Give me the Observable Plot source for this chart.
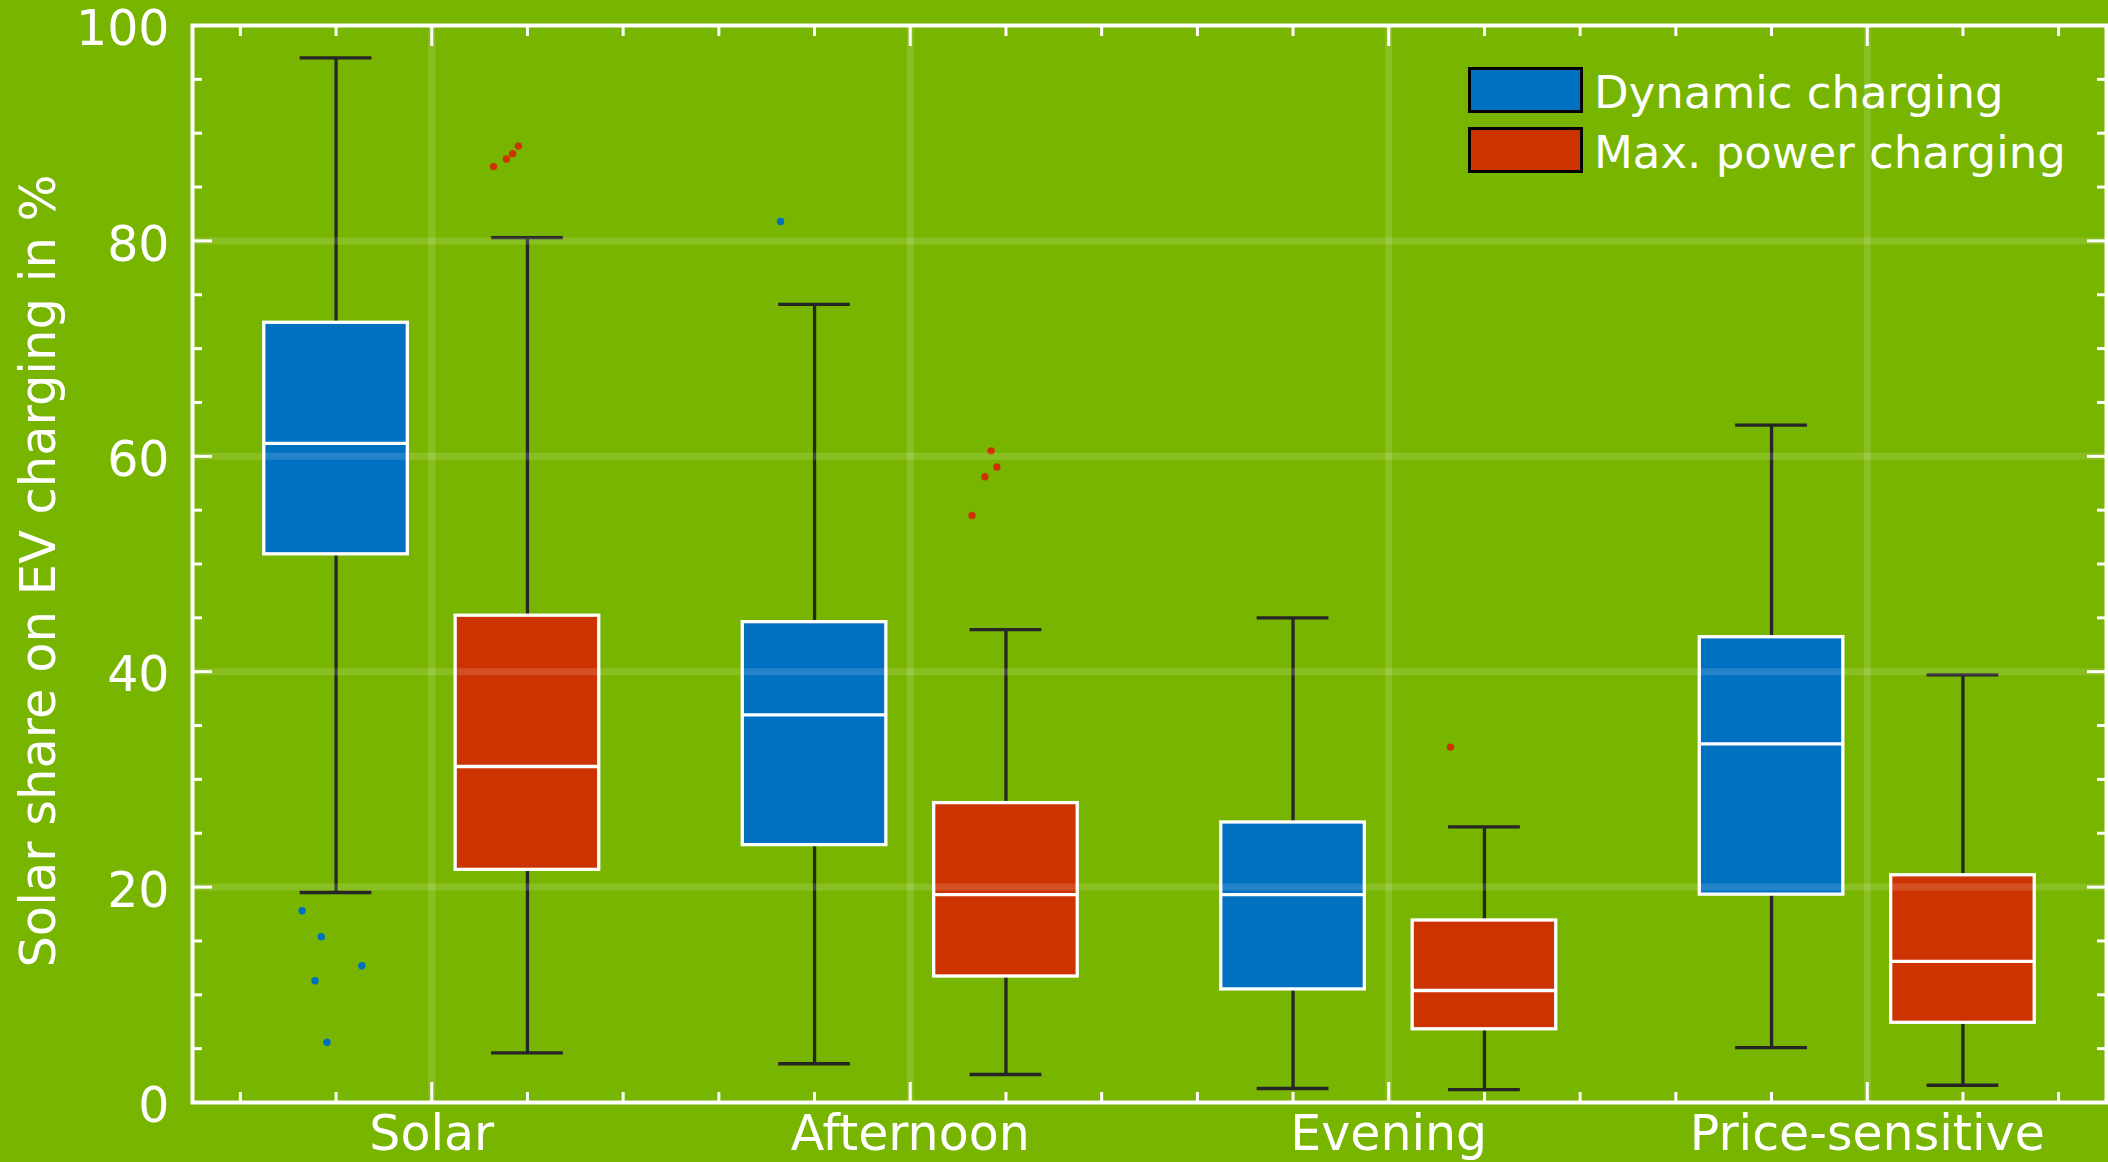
<!DOCTYPE html>
<html>
<head>
<meta charset="utf-8">
<script src="https://cdn.jsdelivr.net/npm/d3@7"></script>
<script src="https://cdn.jsdelivr.net/npm/@observablehq/plot@0.6"></script>
<style>
  html, body { margin: 0; padding: 0; background: #77b500; }
  #chart { position: relative; width: 2108px; height: 1162px; font-family: "DejaVu Sans", Verdana, sans-serif; }
  #chart svg { display: block; }
  .legend { position: absolute; left: 1468px; top: 67px; color: white; font-size: 45px; }
  .legend .row { position: relative; height: 60px; }
  .legend .swatch { position: absolute; left: 0; top: 0; width: 115px; height: 46px; box-sizing: border-box; border: 3px solid #000; }
  .legend .label { position: absolute; left: 126px; top: 2.5px; line-height: 46px; white-space: nowrap; }
</style>
</head>
<body>
<div id="chart"></div>
<script>
// Charging scenarios on the x axis
const categories = ["Solar", "Afternoon", "Evening", "Price-sensitive"];
const seriesNames = ["Dynamic charging", "Max. power charging"];
const seriesColors = ["#0070c0", "#cc3300"];

// Box statistics (solar share in %), one entry per scenario
const dynamicLow    = [19.5, 3.6, 1.3, 5.1];
const dynamicQ1     = [50.9, 23.9, 10.5, 19.3];
const dynamicMedian = [61.2, 36.0, 19.3, 33.3];
const dynamicQ3     = [72.4, 44.6, 26.0, 43.2];
const dynamicHigh   = [97.0, 74.1, 45.0, 62.9];

const maxLow    = [4.6, 2.6, 1.2, 1.6];
const maxQ1     = [21.6, 11.7, 6.8, 7.4];
const maxMedian = [31.2, 19.3, 10.4, 13.1];
const maxQ3     = [45.2, 27.8, 16.9, 21.1];
const maxHigh   = [80.3, 43.9, 25.6, 39.7];

// Outliers: scenario index, series index, value, horizontal jitter
const outlierCategory = [0, 0, 0, 0, 0, 0, 0, 0, 0, 1, 1, 1, 1, 1, 2];
const outlierSeries   = [0, 0, 0, 0, 0, 1, 1, 1, 1, 0, 1, 1, 1, 1, 1];
const outlierValue    = [17.8, 15.4, 12.7, 11.3, 5.6, 86.9, 87.6, 88.1, 88.8, 81.8, 60.5, 59.0, 58.1, 54.5, 33.0];
const outlierJitter   = [-0.071, -0.031, 0.054, -0.044, -0.019, -0.071, -0.044, -0.031, -0.019, -0.071, -0.031, -0.019, -0.044, -0.071, -0.071];

const yLabels = [0, 20, 40, 60, 80, 100];

const seriesStats = [
  [dynamicLow, dynamicQ1, dynamicMedian, dynamicQ3, dynamicHigh],
  [maxLow, maxQ1, maxMedian, maxQ3, maxHigh]
];
const groupOffset = [-0.2, 0.2];
const boxHalf = 0.15;
const capHalf = 0.075;

const boxes = [];
seriesStats.forEach(([lo, q1, med, q3, hi], s) => {
  categories.forEach((c, i) => {
    boxes.push({
      series: seriesNames[s],
      x: i + 1 + groupOffset[s],
      low: lo[i], q1: q1[i], median: med[i], q3: q3[i], high: hi[i]
    });
  });
});

const outliers = outlierValue.map((v, k) => ({
  series: seriesNames[outlierSeries[k]],
  x: outlierCategory[k] + 1 + groupOffset[outlierSeries[k]] + outlierJitter[k],
  y: v
}));

const catPositions = categories.map((c, i) => i + 1);
const minorX = d3.range(0.6, 4.5, 0.2).map(v => +v.toFixed(1)).filter(v => Math.abs(v - Math.round(v)) > 1e-6);
const minorY = d3.range(5, 100, 5).filter(v => v % 20 !== 0);
const majorY = [20, 40, 60, 80];

const dark = "#262626";
const lineW = 3.3;

const chart = Plot.plot({
  width: 2108,
  height: 1162,
  marginLeft: 192,
  marginRight: 2,
  marginTop: 25,
  marginBottom: 60,
  style: {background: "#77b500", color: "white", fontFamily: "DejaVu Sans, Verdana, sans-serif", fontSize: "49px", overflow: "visible"},
  x: {domain: [0.5, 4.5]},
  y: {domain: [0, 100]},
  color: {domain: seriesNames, range: seriesColors},
  marks: [
    // whiskers and caps
    Plot.ruleX(boxes, {x: "x", y1: "low", y2: "high", stroke: dark, strokeWidth: lineW}),
    Plot.ruleY(boxes, {y: "low", x1: d => d.x - capHalf, x2: d => d.x + capHalf, stroke: dark, strokeWidth: lineW}),
    Plot.ruleY(boxes, {y: "high", x1: d => d.x - capHalf, x2: d => d.x + capHalf, stroke: dark, strokeWidth: lineW}),
    // interquartile boxes and medians
    Plot.rect(boxes, {x1: d => d.x - boxHalf, x2: d => d.x + boxHalf, y1: "q1", y2: "q3", fill: "series", stroke: "white", strokeWidth: lineW}),
    Plot.ruleY(boxes, {y: "median", x1: d => d.x - boxHalf, x2: d => d.x + boxHalf, stroke: "white", strokeWidth: lineW}),
    // outliers
    Plot.dot(outliers, {x: "x", y: "y", r: 3.7, fill: "series", stroke: null}),
    // translucent grid on top
    Plot.ruleY(majorY, {stroke: "white", strokeOpacity: 0.14, strokeWidth: 7}),
    Plot.ruleX(catPositions, {stroke: "white", strokeOpacity: 0.14, strokeWidth: 7}),
    Plot.frame({stroke: "white", strokeWidth: 4}),
    // tick labels
    Plot.axisY({anchor: "left", ticks: yLabels, tickSize: 0, tickPadding: 23, dy: 4, fontSize: 49, fill: "white", label: null}),
    Plot.axisX({anchor: "bottom", ticks: catPositions, tickFormat: d => categories[d - 1], tickSize: 0, tickPadding: 13, fontSize: 49, fill: "white", label: null}),
    // inward ticks on all four sides
    Plot.axisY({anchor: "left", ticks: minorY, tickSize: -10, fill: "none", stroke: "white", strokeWidth: 3, label: null}),
    Plot.axisY({anchor: "left", ticks: majorY, tickSize: -20, fill: "none", stroke: "white", strokeWidth: 3, label: null}),
    Plot.axisY({anchor: "right", ticks: minorY, tickSize: -10, fill: "none", stroke: "white", strokeWidth: 3, label: null}),
    Plot.axisY({anchor: "right", ticks: majorY, tickSize: -20, fill: "none", stroke: "white", strokeWidth: 3, label: null}),
    Plot.axisX({anchor: "bottom", ticks: minorX, tickSize: -10, fill: "none", stroke: "white", strokeWidth: 3, label: null}),
    Plot.axisX({anchor: "bottom", ticks: catPositions, tickSize: -20, fill: "none", stroke: "white", strokeWidth: 3, label: null}),
    Plot.axisX({anchor: "top", ticks: minorX, tickSize: -10, fill: "none", stroke: "white", strokeWidth: 3, label: null}),
    Plot.axisX({anchor: "top", ticks: catPositions, tickSize: -20, fill: "none", stroke: "white", strokeWidth: 3, label: null}),
    // y-axis title
    Plot.text(["Solar share on EV charging in %"], {text: d => d, frameAnchor: "left", textAnchor: "middle", rotate: -90, dx: -153, dy: 7, fontSize: 49.5, fill: "white"})
  ]
});

const root = document.getElementById("chart");
root.appendChild(chart);

// legend inside the upper-right corner of the plot
const legend = document.createElement("div");
legend.className = "legend";
seriesNames.forEach((name, i) => {
  const row = document.createElement("div");
  row.className = "row";
  const sw = document.createElement("div");
  sw.className = "swatch";
  sw.style.background = seriesColors[i];
  const lab = document.createElement("div");
  lab.className = "label";
  lab.textContent = name;
  row.appendChild(sw);
  row.appendChild(lab);
  legend.appendChild(row);
});
root.appendChild(legend);
</script>
</body>
</html>
